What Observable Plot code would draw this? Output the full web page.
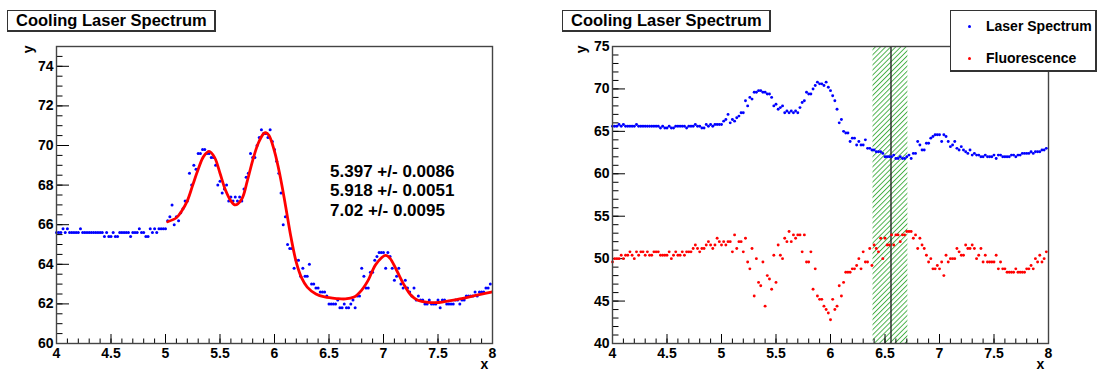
<!DOCTYPE html>
<html>
<head>
<meta charset="utf-8">
<script src="https://cdn.jsdelivr.net/npm/d3@7"></script>
<script src="https://cdn.jsdelivr.net/npm/@observablehq/plot@0.6"></script>
<style>
  html, body { margin: 0; padding: 0; background: #fff; }
  #root { position: relative; width: 1100px; height: 372px; overflow: hidden;
          font-family: "Liberation Sans", Arial, Helvetica, sans-serif; font-weight: bold; }
  .panel { position: absolute; top: 0; width: 550px; height: 372px; }
  .titlebox { position: absolute; top: 10px; height: 19px; background: #fff;
              border: 1px solid #333; border-right-width: 2px; border-bottom-width: 2px;
              font-size: 16.5px; line-height: 19px; padding-left: 8px; box-sizing: content-box; white-space: nowrap; }
  .legend { position: absolute; left: 950px; top: 10px; width: 144px; height: 59px; background: #fff;
            border: 1px solid #333; border-right-width: 2px; border-bottom-width: 2px; font-size: 14px; }
  .legend .row { position: absolute; left: 0; height: 20px; line-height: 20px; white-space: nowrap; }
  .legend .dot { position: absolute; left: 17px; top: 8.5px; width: 3px; height: 3px; border-radius: 50%; }
  .legend .lab { position: absolute; left: 35px; top: 0; }
</style>
</head>
<body>
<div id="root">
  <div class="panel" id="left"></div>
  <div class="panel" id="right" style="left:550px"></div>
  <div class="titlebox" style="left:7px; width:198px">Cooling Laser Spectrum</div>
  <div class="titlebox" style="left:562px; width:198px">Cooling Laser Spectrum</div>
  <div class="legend">
    <div class="row" style="top:5px"><div class="dot" style="background:#0000ff"></div><div class="lab">Laser Spectrum</div></div>
    <div class="row" style="top:37px"><div class="dot" style="background:#ff0000"></div><div class="lab">Fluorescence</div></div>
  </div>
</div>
<script>
// ---- data ----
const sampleX = d3.range(200).map(i => +(4 + i * 0.02).toFixed(2));

const laserSpectrum = [
  65.6, 65.6, 65.6, 65.8, 65.6, 65.8, 65.6, 65.6, 65.6, 65.6,
  65.6, 65.8, 65.6, 65.6, 65.6, 65.6, 65.6, 65.6, 65.6, 65.6,
  65.6, 65.6, 65.4, 65.6, 65.4, 65.4, 65.6, 65.4, 65.4, 65.6,
  65.6, 65.6, 65.6, 65.6, 65.4, 65.6, 65.6, 65.6, 65.8, 65.6,
  65.6, 65.4, 65.4, 65.8, 65.6, 65.8, 65.6, 65.8, 65.8, 65.8,
  65.8, 66.2, 66.4, 67.0, 66.0, 66.4, 66.2, 66.6, 66.8, 67.2,
  67.2, 68.6, 68.0, 69.0, 68.8, 69.6, 69.6, 69.8, 69.8, 69.6,
  69.6, 69.4, 69.4, 69.0, 68.0, 68.2, 67.6, 67.8, 68.0, 67.2,
  67.4, 67.2, 67.4, 67.2, 67.4, 67.2, 67.8, 68.4, 68.6, 69.6,
  69.4, 69.4, 70.0, 70.4, 70.8, 70.6, 70.6, 70.4, 70.8, 70.2,
  69.8, 69.2, 68.6, 67.6, 66.0, 66.4, 65.0, 64.8, 64.8, 63.8,
  64.2, 64.2, 63.4, 63.8, 63.4, 63.4, 64.0, 63.0, 63.0, 62.8,
  62.8, 62.6, 62.6, 62.6, 62.4, 62.0, 62.0, 62.0, 62.0, 62.2,
  61.8, 61.8, 62.0, 61.8, 61.8, 62.0, 62.2, 61.8, 62.4, 62.4,
  63.8, 63.4, 62.8, 62.8, 63.6, 63.6, 64.2, 64.4, 64.6, 64.6,
  64.6, 63.8, 64.6, 64.4, 63.8, 63.2, 63.4, 63.8, 63.0, 62.8,
  63.2, 62.8, 62.6, 62.4, 62.8, 62.2, 62.4, 62.2, 62.2, 62.0,
  62.0, 62.2, 62.0, 62.0, 62.0, 62.2, 61.8, 62.2, 62.2, 62.0,
  62.0, 62.0, 62.0, 62.2, 62.2, 62.0, 62.2, 62.2, 62.4, 62.4,
  62.4, 62.4, 62.6, 62.4, 62.6, 62.6, 62.6, 62.8, 62.8, 63.0
];

const fluorescence = [
  49.6, 50.0, 50.0, 50.0, 50.4, 50.0, 50.4, 50.4, 50.8, 50.4,
  50.0, 50.8, 50.4, 50.8, 50.8, 50.4, 50.8, 50.4, 50.4, 50.8,
  50.8, 50.8, 50.4, 50.4, 50.4, 50.4, 50.8, 50.0, 50.4, 50.8,
  50.4, 50.4, 50.8, 50.4, 50.8, 50.8, 50.8, 51.2, 51.6, 51.2,
  50.8, 51.2, 51.2, 51.6, 52.0, 51.6, 51.2, 51.6, 52.4, 52.0,
  51.6, 52.0, 51.6, 52.0, 52.0, 50.8, 52.8, 51.2, 52.0, 52.0,
  50.8, 52.4, 49.6, 48.8, 51.2, 45.6, 50.0, 47.2, 46.8, 49.6,
  44.4, 48.0, 47.6, 46.4, 50.4, 47.2, 51.6, 50.4, 50.0, 52.4,
  52.0, 53.2, 52.0, 52.8, 52.4, 52.8, 52.8, 50.8, 52.8, 49.6,
  49.6, 50.8, 46.4, 48.8, 45.6, 45.2, 45.2, 44.4, 44.0, 43.6,
  42.8, 45.2, 44.0, 44.4, 46.8, 45.6, 47.2, 48.4, 48.4, 48.4,
  48.8, 48.8, 49.2, 50.0, 48.8, 50.8, 49.6, 49.6, 51.2, 49.2,
  51.6, 51.2, 50.8, 52.4, 50.0, 52.4, 51.6, 51.6, 52.8, 51.6,
  52.8, 52.8, 52.0, 52.8, 52.8, 53.2, 53.2, 53.2, 52.4, 52.8,
  51.2, 52.4, 51.6, 51.2, 50.4, 49.6, 50.0, 48.8, 48.8, 49.2,
  48.8, 49.6, 48.0, 50.4, 49.6, 50.0, 50.0, 50.0, 51.2, 50.8,
  50.4, 50.4, 51.6, 51.2, 51.2, 51.6, 51.2, 50.0, 50.4, 51.2,
  49.6, 50.4, 49.6, 49.6, 49.6, 49.6, 50.4, 48.8, 49.6, 48.8,
  48.8, 48.4, 48.4, 48.4, 48.4, 48.8, 48.4, 48.4, 48.4, 48.4,
  48.8, 48.8, 49.2, 48.8, 50.0, 49.6, 50.4, 49.6, 50.0, 50.8
];

// fitted curve
const fitX = [5.02, 5.10, 5.15, 5.20, 5.25, 5.30, 5.35, 5.40, 5.45, 5.50, 5.55, 5.60, 5.64, 5.70,
  5.75, 5.80, 5.85, 5.90, 5.92, 5.95, 6.00, 6.05, 6.10, 6.15, 6.20, 6.25, 6.30, 6.38, 6.46,
  6.57, 6.65, 6.73, 6.80, 6.86, 6.93, 7.02, 7.06, 7.12, 7.19, 7.25, 7.31, 7.41, 7.51, 7.60,
  7.70, 7.80, 7.89, 7.99];
const fitY = [66.15, 66.35, 66.7, 67.2, 68.0, 68.8, 69.45, 69.7, 69.4, 68.6, 67.75, 67.2, 67.0, 67.3,
  68.2, 69.25, 70.1, 70.6, 70.65, 70.5, 69.7, 68.5, 67.0, 65.4, 64.1, 63.3, 62.85, 62.5, 62.35,
  62.27, 62.25, 62.35, 62.7, 63.2, 64.0, 64.45, 64.3, 63.7, 62.95, 62.45, 62.2, 62.08, 62.07, 62.15,
  62.25, 62.37, 62.48, 62.6];
const fitLabels = ["5.397 +/- 0.0086", "5.918 +/- 0.0051", "7.02 +/- 0.0095"];
const fitLabelY = [68.7, 67.71, 66.72];

// selected window on the right panel
const bandLo = 6.39, bandHi = 6.71, bandCenter = 6.555;

// ticks
const xMajor = [4, 4.5, 5, 5.5, 6, 6.5, 7, 7.5, 8];
const xMinor = d3.range(41).map(i => +(4 + i * 0.1).toFixed(1));
const yMajorL = [60, 62, 64, 66, 68, 70, 72, 74];
const yMinorL = d3.range(31).map(i => 60 + i * 0.5);
const yMajorR = [40, 45, 50, 55, 60, 65, 70, 75];
const yMinorR = d3.range(36).map(i => 40 + i);

// ---- drawing ----
const fmt = d3.format("~g");
const FONT = "Liberation Sans, Arial, Helvetica, sans-serif";
const laserData = sampleX.map((x, i) => ({x, y: laserSpectrum[i]}));
const fluoData = sampleX.map((x, i) => ({x, y: fluorescence[i]}));
const fitData = fitX.map((x, i) => ({x, y: fitY[i]}));

function panel({yDomain, yMajor, yMinor, ml, mr, ylabDx, under = [], over = []}) {
  const W = 550, H = 372, mt = 46, mb = 29;
  const fw = W - ml - mr, fh = H - mt - mb;
  return Plot.plot({
    width: W, height: H,
    marginLeft: ml, marginRight: mr, marginTop: mt, marginBottom: mb,
    x: {domain: [4, 8]},
    y: {domain: yDomain},
    style: {fontFamily: FONT, fontWeight: "bold", fontSize: "14px", background: "transparent", color: "#000", overflow: "visible"},
    marks: [
      ...under,
      Plot.ruleX(xMinor, {stroke: "#000", strokeWidth: 1, insetTop: fh - 4.5}),
      Plot.ruleX(xMajor, {stroke: "#000", strokeWidth: 1, insetTop: fh - 9}),
      Plot.ruleY(yMinor, {stroke: "#000", strokeWidth: 1, insetRight: fw - 6.5}),
      Plot.ruleY(yMajor, {stroke: "#000", strokeWidth: 1, insetRight: fw - 13}),
      Plot.axisX({ticks: xMajor, tickSize: 0, tickPadding: 5, tickFormat: fmt, label: null,
                  fontSize: 14, fontWeight: "bold", fill: "#000"}),
      Plot.axisY({ticks: yMajor, tickSize: 0, tickPadding: 3, tickFormat: fmt, label: null,
                  fontSize: 14, fontWeight: "bold", fill: "#000"}),
      ...over,
      Plot.frame({stroke: "#444", strokeWidth: 1.4}),
      Plot.text(["x"], {text: d => d, frameAnchor: "bottom-right", dx: -8, dy: 25.5,
                        textAnchor: "middle", fontSize: 14, fontWeight: "bold", fill: "#000"}),
      Plot.text(["y"], {text: d => d, frameAnchor: "top-left", dx: ylabDx, dy: -1, rotate: -90,
                        textAnchor: "end", fontSize: 14, fontWeight: "bold", fill: "#000"})
    ]
  });
}

const left = panel({
  yDomain: [60, 75], yMajor: yMajorL, yMinor: yMinorL, ml: 56, mr: 58, ylabDx: -33,
  over: [
    Plot.dot(laserData, {x: "x", y: "y", r: 1.5, fill: "#0000ff", stroke: "none"}),
    Plot.line(fitData, {x: "x", y: "y", stroke: "#ff0000", strokeWidth: 2.8, curve: "catmull-rom"}),
    Plot.text(fitLabels, {text: d => d, x: 6.51, y: fitLabelY, textAnchor: "start",
                          fontSize: 17, fontWeight: "bold", fill: "#000"})
  ]
});

const right = panel({
  yDomain: [40, 75], yMajor: yMajorR, yMinor: yMinorR, ml: 62, mr: 52, ylabDx: -36,
  under: [
    Plot.rect([{x1: bandLo, x2: bandHi}], {x1: "x1", x2: "x2", fill: "url(#hatch)"})
  ],
  over: [
    Plot.ruleX([bandCenter], {stroke: "#222", strokeWidth: 1.4}),
    Plot.dot(laserData, {x: "x", y: "y", r: 1.45, fill: "#0000ff", stroke: "none"}),
    Plot.dot(fluoData, {x: "x", y: "y", r: 1.45, fill: "#ff0000", stroke: "none"})
  ]
});

const ns = "http://www.w3.org/2000/svg";
const defs = document.createElementNS(ns, "defs");
defs.innerHTML = '<pattern id="hatch" patternUnits="userSpaceOnUse" width="3.6" height="3.6" patternTransform="rotate(45)">' +
  '<line x1="0.5" y1="0" x2="0.5" y2="3.6" stroke="#22a022" stroke-width="0.8"/></pattern>';
right.insertBefore(defs, right.firstChild);

document.getElementById("left").appendChild(left);
document.getElementById("right").appendChild(right);
</script>
</body>
</html>
